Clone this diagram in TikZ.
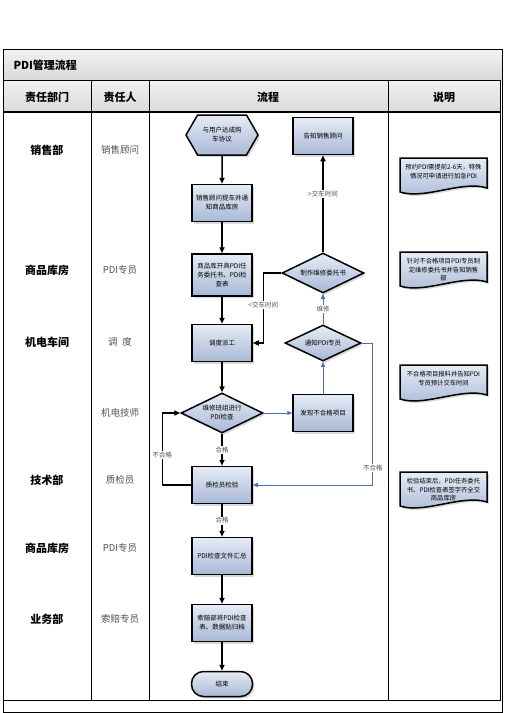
\documentclass[tikz,border=0pt]{standalone}
\usepackage{fontspec}
\usepackage{tikz}
\usetikzlibrary{shapes.geometric,shapes.symbols,shadows,arrows.meta}
\newfontfamily\cjk{Noto Sans CJK SC}
\definecolor{boxtop}{HTML}{E6ECF6}
\definecolor{boxbottom}{HTML}{A8B8D6}
\definecolor{flowblue}{HTML}{4A6FB5}
\definecolor{bandtop}{HTML}{F2F2F2}
\definecolor{bandbottom}{HTML}{D9D9D9}
\definecolor{persongray}{HTML}{505050}

\begin{document}
\begin{tikzpicture}[x=1pt,y=-1pt,
  every node/.style={font=\cjk},
  flowbox/.style={draw, line width=1.5pt, top color=boxtop, bottom color=boxbottom,
    drop shadow={opacity=0.3,shadow xshift=2pt,shadow yshift=-2pt},
    align=center, font=\cjk\fontsize{6.5}{9}\selectfont, inner sep=1pt},
  procbox/.style={flowbox, minimum width=60pt, minimum height=37pt},
  decbox/.style={flowbox, diamond, aspect=2, minimum width=82pt, minimum height=40pt, inner sep=0pt},
  hexbox/.style={flowbox, signal, signal to=west and east, signal pointer angle=120,
    minimum width=72pt, minimum height=40pt},
  endbox/.style={flowbox, rounded corners=12pt, minimum width=61pt, minimum height=25pt},
  notebox/.style={draw, line width=1.5pt, top color=boxtop, bottom color=boxbottom,
    drop shadow={opacity=0.3,shadow xshift=2pt,shadow yshift=-2pt}},
  notetext/.style={align=center, font=\cjk\fontsize{6.3}{8.5}\selectfont, anchor=north},
  arr/.style={line width=1.5pt, -{Triangle[length=6pt,width=5pt]}},
  bluearr/.style={line width=0.9pt, flowblue, -{Triangle[length=5pt,width=4pt]}},
  linelabel/.style={fill=white, inner sep=1pt, font=\cjk\fontsize{6.5}{8}\selectfont, text=persongray},
  headtext/.style={font=\cjk\bfseries\fontsize{11}{13}\selectfont},
  dept/.style={font=\cjk\bfseries\fontsize{11}{13}\selectfont},
  person/.style={font=\cjk\fontsize{9.5}{11}\selectfont, text=persongray}
]
\useasboundingbox (0,0) rectangle (504,713);

% frame and table
\fill[top color=bandtop, bottom color=bandbottom] (3,49) rectangle (502,80);
\fill[top color=bandtop, bottom color=bandbottom] (3,80) rectangle (500,112);
\draw[line width=0.8pt] (3,49) rectangle (502,712);
\draw[line width=0.8pt] (3,80) rectangle (500,700);
\draw[line width=1.6pt] (3,112) -- (500,112);
\foreach \x in {91,149,388}
  \draw[line width=0.8pt] (\x,80) -- (\x,700);

\node[headtext, anchor=west] (title) at (10,65) {PDI管理流程};
\node[headtext] (headdept) at (47,97) {责任部门};
\node[headtext] (headperson) at (120,97) {责任人};
\node[headtext] (headflow) at (268,97) {流程};
\node[headtext] (headnote) at (444,97) {说明};

\foreach \y/\d/\p in {150/销售部/销售顾问, 270/商品库房/PDI专员, 342/机电车间/调\enspace 度,
    413//机电技师, 480/技术部/质检员, 548/商品库房/PDI专员, 619/业务部/索赔专员} {
  \node[dept] (dept\y) at (47,\y) {\d};
  \node[person] (person\y) at (120,\y) {\p};
}

% flow
\node[hexbox] (deal) at (222,135) {与用户达成购\\车协议};
\node[procbox] (notify) at (323,136) {告知销售顾问};
\node[procbox] (pickup) at (222,203) {销售顾问提车并通\\知商品库房};
\node[procbox, minimum height=42pt] (entrust) at (222,275) {商品库开具PDI任\\务委托书、PDI检\\查表};
\node[decbox] (makeorder) at (323,273) {制作维修委托书};
\node[procbox] (dispatch) at (222,343) {调度派工};
\node[decbox, minimum width=76pt, minimum height=36pt] (informpdi) at (323,343) {通知PDI专员};
\node[decbox] (inspect) at (222,413) {维修班组进行\\PDI检查};
\node[procbox] (defect) at (323,413) {发现不合格项目};
\node[procbox] (qc) at (222,485) {质检员检验};
\node[procbox] (summary) at (222,556) {PDI检查文件汇总};
\node[procbox] (archive) at (222,623) {索赔部将PDI检查\\表、数据贴归档};
\node[endbox] (finish) at (222,684) {结束};

\draw[arr] (deal) -- (pickup);
\draw[arr] (pickup) -- (entrust);
\draw[arr] (entrust) -- (dispatch);
\draw[arr] (makeorder.west) -- ++(-18,0) |- node[linelabel, pos=0.23] {<交车时间} (dispatch.east);
\draw[arr] (makeorder) -- node[linelabel, pos=0.6] {>交车时间} (notify);
\draw[arr] (dispatch) -- (inspect);
\draw[arr] (inspect) -- node[linelabel] {合格} (qc);
\draw[arr] (qc.west) -- ++(-29,0) |- node[linelabel, pos=0.21] {不合格} (inspect.west);
\draw[arr] (qc) -- node[linelabel] {合格} (summary);
\draw[arr] (summary) -- (archive);
\draw[arr] (archive) -- (finish);
\draw[bluearr] (inspect.east) -- (defect.west);
\draw[bluearr] (defect) -- (informpdi);
\draw[bluearr] (informpdi) -- node[linelabel] {维修} (makeorder);
\draw[bluearr] (informpdi.east) -- ++(11,0) |- node[linelabel, pos=0.44] {不合格} (qc.east);

% notes
\foreach \ytop/\txt in {158/{预约PDI需提前2-6天，特殊\\情况可申请进行加急PDI},
    252/{针对不合格项目PDI专员制\\定维修委托书并告知销售\\部},
    365/{不合格项目报料并告知PDI\\专员预计交车时间},
    472/{检验结束后，PDI任务委托\\书、PDI检查表签字齐全交\\商品库房}} {
  \path[notebox] (400,\ytop) -- (487,\ytop) -- (487,\ytop+30)
    .. controls (462,\ytop+22) and (425,\ytop+42) .. (400,\ytop+34) -- cycle;
  \node[notetext] (note\ytop) at (443.5,\ytop+3) {\txt};
}
\end{tikzpicture}
\end{document}
